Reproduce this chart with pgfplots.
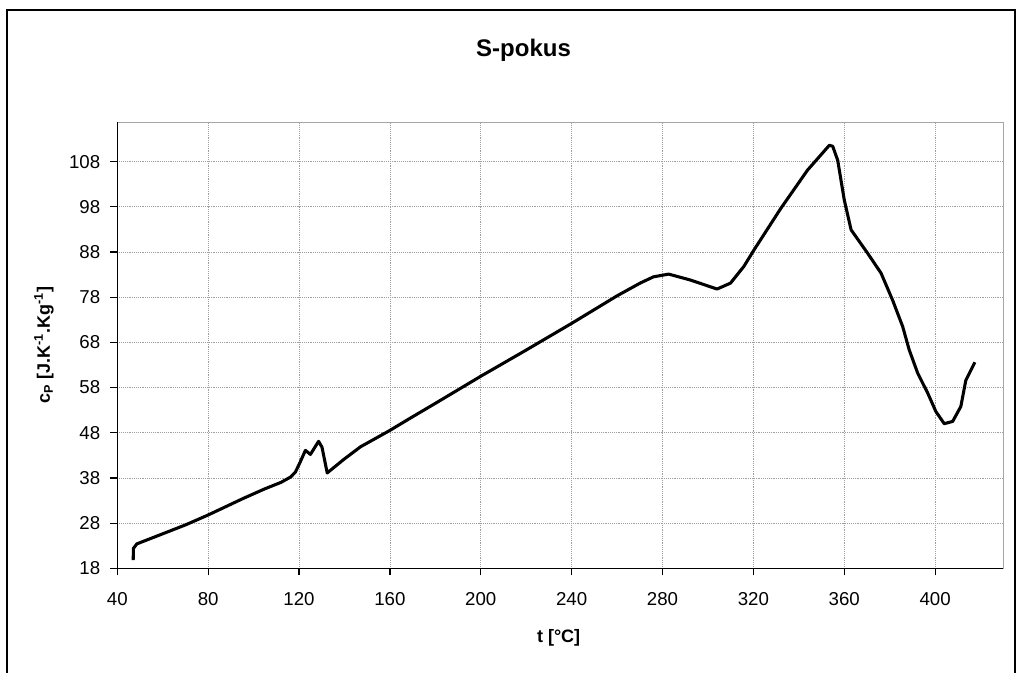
\documentclass[border=0pt]{standalone}
\usepackage{pgfplots}
\pgfplotsset{compat=1.18}
\usepackage{fontspec}
\setmainfont{Liberation Sans}

\begin{document}
\begin{tikzpicture}
% page size and outer chart frame
\path[use as bounding box] (-87.975pt,-78.525pt) rectangle (679.275pt,426.225pt);
\fill[white] (-87.975pt,-78.525pt) rectangle (679.275pt,426.225pt);
\draw[black, line width=1.5pt] (-82.35pt,-95pt) -- (-82.35pt,419pt) -- (673.3pt,419pt) -- (673.3pt,-95pt);

\begin{axis}[
  at={(0pt,0pt)}, anchor=south west,
  scale only axis,
  width=664.5pt, height=334.5pt,
  xmin=40, xmax=430, ymin=18, ymax=116.7,
  xtick={40,80,...,400},
  ytick={18,28,...,108},
  tick align=outside,
  major tick length=5.25pt,
  tick style={black, line width=0.9pt},
  xtick pos=bottom, ytick pos=left,
  grid=major,
  major grid style={gray!75, densely dotted, line width=0.6pt},
  axis line style={gray!70, line width=0.9pt},
  /pgf/number format/assume math mode=true,
  ticklabel style={font=\fontsize{14}{16}\selectfont},
  xticklabel style={anchor=north, yshift=-9pt},
  yticklabel style={anchor=east, xshift=-4pt},
  clip=false,
]
\addplot[black, line width=2.3pt, line join=round] coordinates {
(47.0,19.8) (47.1,22.4) (48.6,23.4) (58.8,25.4) (70,27.6) (80,29.8)
(95.6,33.5) (105,35.6) (112,37.0) (116.3,38.2) (118.4,39.3) (120.5,41.5)
(122.8,44.1) (125,43.2) (128.6,46.1) (130.1,44.8) (132.4,39.1) (139.7,42.1)
(147.1,44.9) (159.6,48.4) (169.2,51.3) (180,54.5) (200,60.5) (220,66.3)
(240,72.2) (260,78.3) (270.1,81.1) (276,82.5) (282.7,83.1) (292.2,81.8)
(304,79.8) (309.9,81.1) (315.8,84.8) (320.2,88.4) (332,97.6) (343.8,106.1)
(353.4,111.6) (354.9,111.4) (357.1,108.3) (360,99.5) (363,92.9) (370.3,87.7)
(376.2,83.3) (381.3,77.3) (385.7,71.5) (388.6,66.3) (392.3,61.2) (396.7,56.8)
(400.3,52.7) (404,50.0) (407.7,50.5) (411.3,53.8) (413.5,59.6) (417.5,63.6)
};
% black value and category axes over the grey plot-area border
\draw[black, line width=1.1pt] (rel axis cs:0,1) -- (rel axis cs:0,0) -- (rel axis cs:1,0);
\end{axis}

% title and axis titles
\node[font=\bfseries\fontsize{18}{20}\selectfont] at (304.7pt,388.7pt) {S-pokus};
\node[font=\bfseries\fontsize{13.5}{15}\selectfont, rotate=90] at (-55pt,167.25pt)
  {c\textsubscript{P} [J.K\textsuperscript{-1}.Kg\textsuperscript{-1}]};
\node[font=\bfseries\fontsize{13.5}{15}\selectfont] at (331pt,-52.3pt) {t [°C]};
\end{tikzpicture}
\end{document}
